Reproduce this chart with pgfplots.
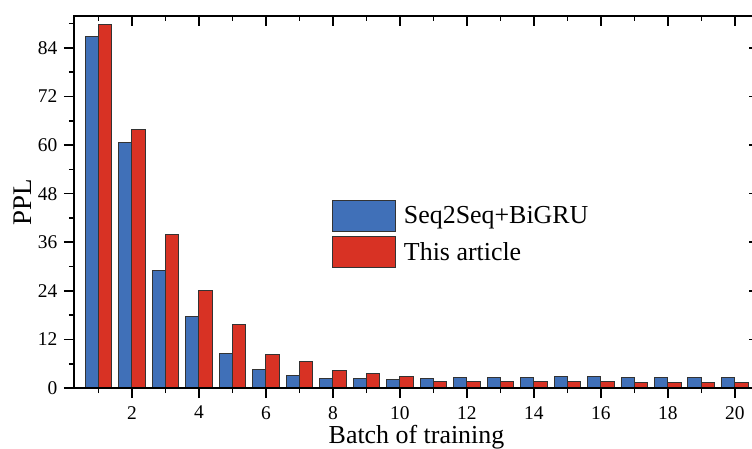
\documentclass[border=0pt]{standalone}
\usepackage{fontspec}
\setmainfont{Liberation Serif}
\usepackage{pgfplots}
\pgfplotsset{compat=1.18}
\definecolor{cblue}{RGB}{64,112,184}
\definecolor{cred}{RGB}{216,50,36}
\begin{document}
\begin{tikzpicture}
\pgfplotsset{
  common/.style={
    at={(74bp,61bp)}, anchor=south west,
    scale only axis, width=685bp, height=372bp,
    xmin=0.27, xmax=20.72, ymin=0, ymax=91.9,
    axis line style={line width=1.6bp},
    xtick={2,4,...,20}, minor xtick={1,3,...,19},
    ytick={0,12,...,84}, minor ytick={6,18,...,90},
    major tick length=10bp, minor tick length=5bp,
    every tick/.style={line width=1.6bp, black},
    /pgf/number format/assume math mode=true,
  }
}
\begin{axis}[common,
  xtick pos=left, ytick pos=left,
  tick align=outside,
  ticklabel style={font=\fontsize{19.5}{20}\selectfont, inner sep=1bp},
  xticklabel style={yshift=-7bp},
  yticklabel style={xshift=-5.5bp},
  xlabel={Batch of training}, ylabel={PPL},
  every axis y label/.style={at={(axis description cs:-0.0745,0.5)},rotate=90,anchor=center,inner sep=0pt,font=\fontsize{27}{28}\selectfont},
  every axis x label/.style={at={(axis description cs:0.5,-0.1505)},anchor=base,inner sep=0pt,font=\fontsize{26}{27}\selectfont},
  legend style={at={(0.3766,0.5054)}, anchor=north west, draw=none, fill=none,
    inner sep=0pt, outer sep=0pt, row sep=4bp, column sep=8bp,
    font=\fontsize{26}{27}\selectfont, nodes={inner sep=0pt, outer sep=0pt}},
  legend cell align=left,
  legend image code/.code={\draw[#1] (0bp,-15.5bp) rectangle (63bp,15.5bp);},
]
\addplot[ybar, bar width=0.4, bar shift=-0.2, fill=cblue, draw=black!80, line width=1bp]
coordinates {(1,86.8) (2,60.7) (3,29.0) (4,17.6) (5,8.6) (6,4.6) (7,3.2) (8,2.4) (9,2.4) (10,2.2)
 (11,2.4) (12,2.6) (13,2.6) (14,2.6) (15,2.8) (16,2.8) (17,2.6) (18,2.6) (19,2.6) (20,2.6)};
\addlegendentry{Seq2Seq+BiGRU}
\addplot[ybar, bar width=0.4, bar shift=0.2, fill=cred, draw=black!80, line width=1bp]
coordinates {(1,89.7) (2,63.9) (3,37.8) (4,24.0) (5,15.6) (6,8.2) (7,6.5) (8,4.3) (9,3.5) (10,2.8)
 (11,1.6) (12,1.6) (13,1.7) (14,1.6) (15,1.6) (16,1.6) (17,1.4) (18,1.4) (19,1.4) (20,1.4)};
\addlegendentry{This article}
\end{axis}
\begin{axis}[common,
  xtick pos=right, ytick pos=right,
  tick align=inside,
  xticklabels={}, yticklabels={},
]
\end{axis}
\pgfresetboundingbox
\useasboundingbox (0,0) rectangle (752bp,449bp);
\end{tikzpicture}
\end{document}
